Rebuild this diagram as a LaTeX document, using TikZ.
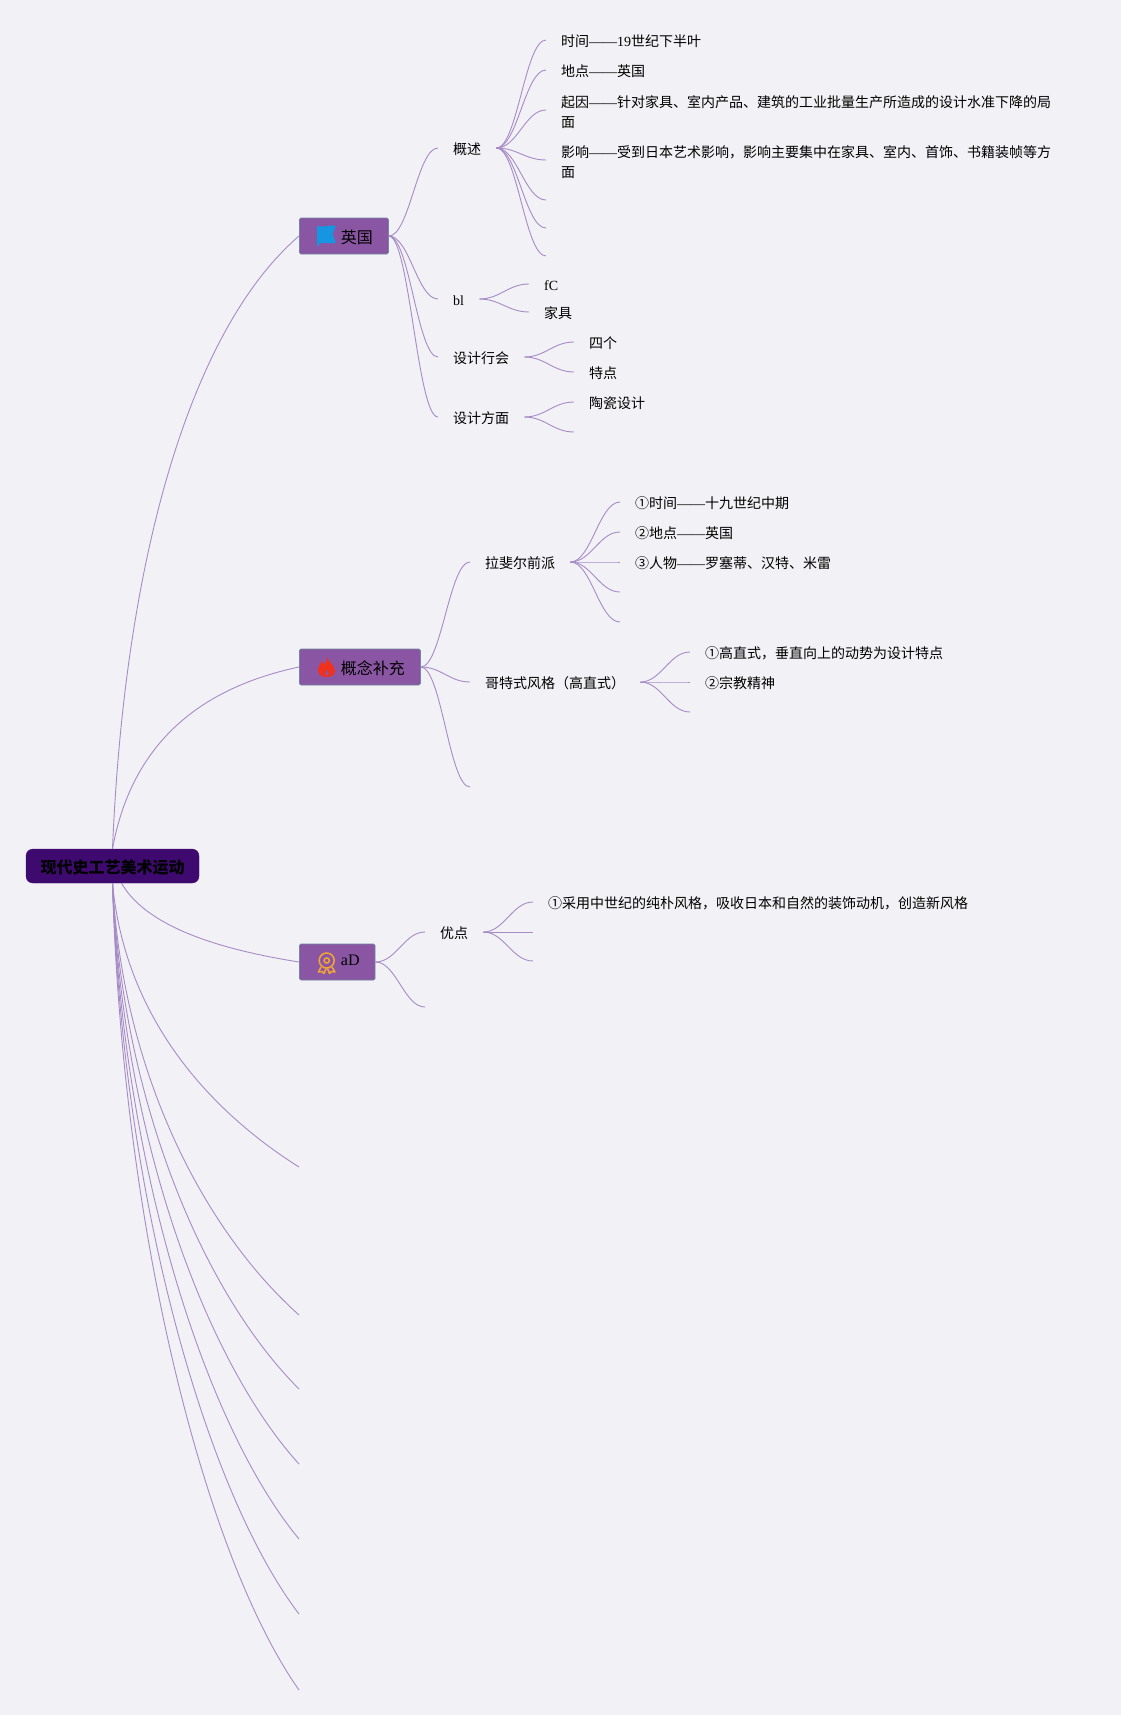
\documentclass[tikz,border=0pt]{standalone}
\usepackage{fontspec}
\setmainfont{Noto Sans CJK SC}
\newfontfamily\lat{Liberation Serif}
\newcommand{\ldash}{{\lat ——}}
\usetikzlibrary{positioning,calc}
\definecolor{pagebg}{HTML}{F2F1F5}
\definecolor{rootfill}{HTML}{3F0A70}
\definecolor{boxfill}{HTML}{8A56A3}
\definecolor{boxedge}{HTML}{6F86A0}
\definecolor{linkcol}{HTML}{A68BC6}
\tikzset{
  rootbox/.style={rectangle, rounded corners=7pt, fill=rootfill, draw=rootfill, minimum width=173pt, minimum height=34pt, font=\fontsize{16}{18}\selectfont\bfseries},
  topicbox/.style={rectangle, rounded corners=1.5pt, fill=boxfill, draw=boxedge, line width=0.8pt, inner xsep=15.5pt, inner ysep=0pt, minimum height=36pt, font=\fontsize{16}{18}\selectfont},
  txt/.style={anchor=west, inner xsep=15pt, inner ysep=2pt, align=left, font=\fontsize{14}{20}\selectfont, execute at begin node={\rule[-1.7pt]{0pt}{16.7pt}}},
  trunk/.style={draw=linkcol, line width=0.9pt},
  twig/.style={draw=linkcol, line width=0.9pt, to path={let \p1=(\tikztostart), \p2=(\tikztotarget), \n1={(\x2-\x1)*0.42} in .. controls (\x1+\n1,\y1) and (\x2-\n1,\y2) .. (\tikztotarget) \tikztonodes}}
}
\begin{document}
\begin{tikzpicture}[x=1pt, y=-1pt]
  \useasboundingbox [fill=pagebg] (0,0) rectangle (1121,1715);

  \node (root) [rootbox] at (112.5,866) {\rule{0pt}{16pt}现代史工艺美术运动};

  \node (uk) [topicbox, anchor=west] at (299,236) {\hspace*{26pt}\rule[-3pt]{0pt}{21pt}英国};
  \node (idea) [topicbox, anchor=west] at (299,667) {\hspace*{26pt}\rule[-3pt]{0pt}{21pt}概念补充};
  \node (ad) [topicbox, anchor=west] at (299,962) {\hspace*{26pt}{\lat\raisebox{4pt}{aD}}};

  \coordinate (free1) at (299,1167);
  \coordinate (free2) at (299,1315);
  \coordinate (free3) at (299,1389);
  \coordinate (free4) at (299,1464);
  \coordinate (free5) at (299,1539);
  \coordinate (free6) at (299,1614);
  \coordinate (free7) at (299,1690);

  \node (sum) [txt] at (438,148) {概述};
  \node (bl) [txt] at (438,299) {\lat bl};
  \node (guild) [txt] at (438,357) {设计行会};
  \node (side) [txt] at (438,417) {设计方面};

  \node (s1) [txt] at (546,40) {时间\ldash{\lat 19}世纪下半叶};
  \node (s2) [txt] at (546,70) {地点\ldash 英国};
  \node (s3) [txt] at (546,110) {\rule{0pt}{16.5pt}起因\ldash 针对家具、室内产品、建筑的工业批量生产所造成的设计水准下降的局\\面};
  \node (s4) [txt] at (546,160) {\rule{0pt}{16.5pt}影响\ldash 受到日本艺术影响，影响主要集中在家具、室内、首饰、书籍装帧等方\\面};
  \coordinate (s5) at (546,200);
  \coordinate (s6) at (546,228);
  \coordinate (s7) at (546,256);

  \node (b1) [txt] at (529,284) {\lat fC};
  \node (b2) [txt] at (529,312) {家具};
  \node (g1) [txt] at (574,342) {四个};
  \node (g2) [txt] at (574,372) {特点};
  \node (d1) [txt] at (574,402) {陶瓷设计};
  \coordinate (d2) at (574,432);

  \node (pre) [txt] at (470,562) {拉斐尔前派};
  \node (p1) [txt] at (620,502) {①时间\ldash 十九世纪中期};
  \node (p2) [txt] at (620,532) {②地点\ldash 英国};
  \node (p3) [txt] at (620,562) {③人物\ldash 罗塞蒂、汉特、米雷};
  \coordinate (p4) at (620,592);
  \coordinate (p5) at (620,622);

  \node (goth) [txt] at (470,682) {哥特式风格（高直式）};
  \node (h1) [txt] at (690,652) {①高直式，垂直向上的动势为设计特点};
  \node (h2) [txt] at (690,682) {②宗教精神};
  \coordinate (h3) at (690,712);
  \coordinate (idea3) at (470,787);

  \node (merit) [txt] at (425,932) {优点};
  \coordinate (ad2) at (425,1007);
  \node (m1) [txt] at (533,902) {①采用中世纪的纯朴风格，吸收日本和自然的装饰动机，创造新风格};
  \coordinate (m2) at (533,932);
  \coordinate (m3) at (533,961);

  \path [trunk] (root.north) .. controls +(12,-289) and +(-109,94) .. (uk.west);
  \path [trunk] (root.north) .. controls +(20,-110) and +(-94,20) .. (idea.west);
  \path [trunk] ([xshift=9pt]root.south) .. controls +(27,47) and +(-69,-11) .. (ad.west);
  \path [trunk] (root.south) .. controls +(12,130) and +(-95,-60) .. (free1);
  \path [trunk] (root.south) .. controls +(10,190) and +(-95,-85) .. (free2);
  \path [trunk] (root.south) .. controls +(10,220) and +(-95,-95) .. (free3);
  \path [trunk] (root.south) .. controls +(10,250) and +(-95,-105) .. (free4);
  \path [trunk] (root.south) .. controls +(10,280) and +(-95,-115) .. (free5);
  \path [trunk] (root.south) .. controls +(10,310) and +(-95,-125) .. (free6);
  \path [trunk] (root.south) .. controls +(10,345) and +(-95,-135) .. (free7);

  \path
  (uk.east) edge[twig] (sum.west)
  (uk.east) edge[twig] (bl.west)
  (uk.east) edge[twig] (guild.west)
  (uk.east) edge[twig] (side.west)
  (sum.east) edge[twig] (s1.west)
  (sum.east) edge[twig] (s2.west)
  (sum.east) edge[twig] (s3.west)
  (sum.east) edge[twig] (s4.west)
  (sum.east) edge[twig] (s5)
  (sum.east) edge[twig] (s6)
  (sum.east) edge[twig] (s7)
  (bl.east) edge[twig] (b1.west)
  (bl.east) edge[twig] (b2.west)
  (guild.east) edge[twig] (g1.west)
  (guild.east) edge[twig] (g2.west)
  (side.east) edge[twig] (d1.west)
  (side.east) edge[twig] (d2)
  (idea.east) edge[twig] (pre.west)
  (idea.east) edge[twig] (goth.west)
  (idea.east) edge[twig] (idea3)
  (pre.east) edge[twig] (p1.west)
  (pre.east) edge[twig] (p2.west)
  (pre.east) edge[twig] (p3.west)
  (pre.east) edge[twig] (p4)
  (pre.east) edge[twig] (p5)
  (goth.east) edge[twig] (h1.west)
  (goth.east) edge[twig] (h2.west)
  (goth.east) edge[twig] (h3)
  (ad.east) edge[twig] (merit.west)
  (ad.east) edge[twig] (ad2)
  (merit.east) edge[twig] (m1.west)
  (merit.east) edge[twig] (m2)
  (merit.east) edge[twig] (m3);

  \fill [color={rgb,255:red,22;green,150;blue,224}] (317,226) .. controls (323,228) and (330,224) .. (336,226) -- (332.5,234) -- (336,243) -- (319,243) -- (319,246) -- (317,246) -- cycle;
  \fill [color={rgb,255:red,238;green,50;blue,30}] (327,657) .. controls (328,662) and (335,665) .. (335,671) .. controls (335,675) and (331,677) .. (327,677) .. controls (322,677) and (318,675) .. (318,670) .. controls (318,666) and (321,664) .. (322,661) .. controls (323,663) and (324,664) .. (325,664) .. controls (326,662) and (327,660) .. (327,657) -- cycle;
  \fill [boxfill] (327,670) .. controls (328,672) and (329,673) .. (328.5,675) -- (325.5,675) .. controls (325,673) and (326,672) .. (327,670) -- cycle;
  \draw [color={rgb,255:red,240;green,166;blue,48}, line width=1.5pt] (326.7,960.5) circle (7.5pt) (326.7,960.5) circle (2.6pt);
  \draw [color={rgb,255:red,240;green,166;blue,48}, line width=1.5pt, line join=round] (321,967) -- (318.5,972) -- (322,971.5) -- (324,973.5) -- (326,968.5) (332,967) -- (335,972) -- (331.5,971.5) -- (329.5,973.5) -- (327.5,968.5);
\end{tikzpicture}
\end{document}
